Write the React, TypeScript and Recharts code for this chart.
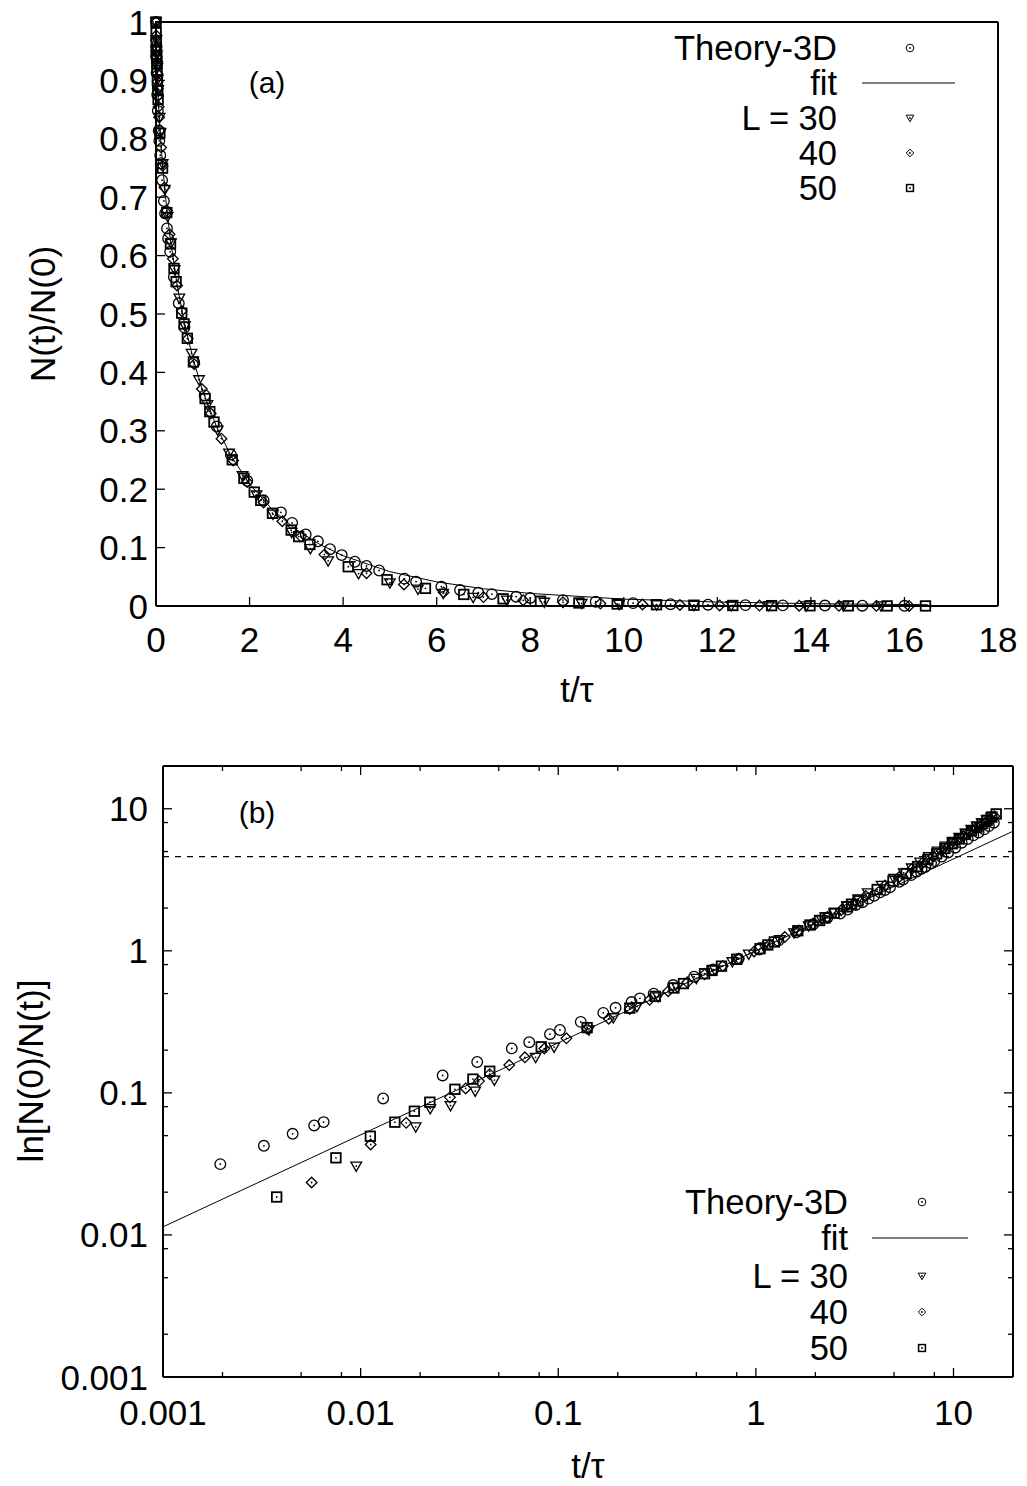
import React from 'react';
import { ComposedChart, Scatter, XAxis, YAxis, ReferenceLine } from 'recharts';

const FONT = '"Liberation Sans", Arial, Helvetica, sans-serif';
const FS = 35;

// Theory-3D (circles)
const thT = [0.00195, 0.00324, 0.00453, 0.00582, 0.0065, 0.013, 0.026, 0.0389, 0.0582, 0.0713, 0.0908, 0.102, 0.13, 0.169, 0.195, 0.235, 0.259, 0.304, 0.381, 0.487, 0.608, 0.817, 1.04, 1.3, 1.6, 1.95, 2.3, 2.67, 2.91, 3.2, 3.46, 3.72, 3.97, 4.25, 4.5, 4.77, 5.31, 5.56, 6.1, 6.5, 6.89, 7.18, 7.7, 8.0, 8.7, 9.4, 10.2, 11.0, 11.8, 12.6, 13.4, 14.3, 15.1, 16.0];
const thLn = [0.0315, 0.0424, 0.0515, 0.059, 0.0623, 0.0914, 0.1327, 0.165, 0.2056, 0.2275, 0.259, 0.277, 0.316, 0.366, 0.397, 0.436, 0.463, 0.5, 0.574, 0.657, 0.74, 0.875, 1.02, 1.18, 1.35, 1.54, 1.71, 1.83, 1.95, 2.1, 2.2, 2.33, 2.44, 2.58, 2.68, 2.8, 3.06, 3.18, 3.41, 3.6, 3.78, 3.89, 4.14, 4.28, 4.6, 4.92, 5.32, 5.77, 6.12, 6.5, 6.8, 7.16, 7.55, 7.98];
const thN = [0.969, 0.9585, 0.9498, 0.9427, 0.9396, 0.9127, 0.8757, 0.8479, 0.8141, 0.7965, 0.7718, 0.7581, 0.7291, 0.6935, 0.6723, 0.6466, 0.6294, 0.6065, 0.5633, 0.5184, 0.4771, 0.4169, 0.3606, 0.3073, 0.2592, 0.2144, 0.1809, 0.1604, 0.1423, 0.1225, 0.1108, 0.0973, 0.0872, 0.0758, 0.0686, 0.0608, 0.0469, 0.0416, 0.033, 0.0273, 0.0228, 0.0204, 0.0159, 0.0138, 0.0101, 0.0073, 0.0049, 0.0031, 0.0022, 0.0015, 0.0011, 0.0008, 0.0005, 0.0003];

// L = 30 (triangles)
const l30T = [0.0095, 0.019, 0.0225, 0.0285, 0.038, 0.0475, 0.0768, 0.0953, 0.143, 0.19, 0.25, 0.32, 0.4, 0.5, 0.62, 0.76, 0.92, 1.1, 1.32, 1.56, 1.85, 2.15, 2.5, 2.9, 3.3, 3.68, 4.33, 5.0, 5.6, 6.14, 6.78, 7.5, 8.3, 9.1, 9.9, 10.7, 11.5, 12.3, 13.1, 13.9, 14.7, 15.5];
const l30Ln = [0.0305, 0.0577, 0.0776, 0.0814, 0.103, 0.123, 0.178, 0.21, 0.278, 0.338, 0.405, 0.475, 0.552, 0.64, 0.735, 0.838, 0.948, 1.065, 1.2, 1.34, 1.5, 1.66, 1.85, 2.07, 2.32, 2.56, 2.89, 3.23, 3.54, 3.83, 4.21, 4.6, 5.03, 5.46, 5.89, 6.3, 6.75, 7.15, 7.55, 7.95, 8.35, 8.75];
const l30N = [0.97, 0.9439, 0.9253, 0.9218, 0.9021, 0.8843, 0.8369, 0.8106, 0.7573, 0.7132, 0.667, 0.6219, 0.5758, 0.5273, 0.4795, 0.4326, 0.3875, 0.3447, 0.3012, 0.2618, 0.2231, 0.1901, 0.1572, 0.1262, 0.0983, 0.0773, 0.0556, 0.0396, 0.029, 0.0217, 0.0148, 0.0101, 0.0065, 0.0043, 0.0028, 0.0018, 0.0012, 0.0008, 0.0005, 0.00035, 0.00024, 0.00016];

// L = 40 (diamonds)
const l40T = [0.00565, 0.01124, 0.017, 0.0283, 0.034, 0.0397, 0.045, 0.0565, 0.0678, 0.085, 0.11, 0.14, 0.18, 0.23, 0.29, 0.36, 0.45, 0.55, 0.68, 0.82, 0.98, 1.17, 1.4, 1.65, 1.95, 2.3, 2.7, 3.1, 3.6, 4.5, 5.3, 6.15, 7.0, 7.85, 8.7, 9.5, 10.4, 11.2, 12.05, 12.9, 13.75, 14.6, 15.4, 16.1];
const l40Ln = [0.0234, 0.0433, 0.0615, 0.093, 0.1075, 0.121, 0.1355, 0.157, 0.178, 0.205, 0.242, 0.283, 0.333, 0.39, 0.452, 0.52, 0.6, 0.683, 0.782, 0.882, 0.99, 1.11, 1.25, 1.39, 1.55, 1.73, 1.93, 2.13, 2.43, 2.88, 3.3, 3.76, 4.19, 4.63, 5.07, 5.49, 5.96, 6.4, 6.86, 7.27, 7.69, 8.11, 8.51, 8.87];
const l40N = [0.9769, 0.9576, 0.9404, 0.9112, 0.8981, 0.886, 0.8733, 0.8547, 0.8369, 0.8146, 0.7851, 0.7536, 0.7168, 0.6771, 0.6364, 0.5945, 0.5488, 0.5051, 0.4575, 0.414, 0.3716, 0.3296, 0.2865, 0.2491, 0.2122, 0.1773, 0.1451, 0.1188, 0.088, 0.0561, 0.0369, 0.0233, 0.0152, 0.0098, 0.0063, 0.0041, 0.0026, 0.0017, 0.001, 0.0007, 0.0005, 0.0003, 0.0002, 0.00014];

// L = 50 (squares)
const l50T = [0.00376, 0.0075, 0.0112, 0.0149, 0.0187, 0.0224, 0.03, 0.037, 0.045, 0.082, 0.14, 0.23, 0.31, 0.385, 0.43, 0.55, 0.6, 0.67, 0.8, 1.05, 1.15, 1.24, 1.63, 1.88, 2.1, 2.24, 2.49, 2.89, 3.05, 3.29, 4.11, 4.94, 5.76, 6.58, 7.42, 8.22, 9.04, 9.86, 10.7, 11.5, 12.33, 13.16, 13.98, 14.8, 15.63, 16.45];
const l50Ln = [0.0185, 0.0349, 0.0495, 0.0622, 0.0743, 0.086, 0.106, 0.125, 0.142, 0.211, 0.288, 0.395, 0.478, 0.548, 0.588, 0.69, 0.728, 0.78, 0.872, 1.035, 1.1, 1.155, 1.385, 1.52, 1.635, 1.71, 1.84, 2.04, 2.13, 2.25, 2.7, 3.1, 3.5, 3.92, 4.4, 4.82, 5.25, 5.68, 6.13, 6.6, 7.0, 7.42, 7.85, 8.3, 8.75, 9.2];
const l50N = [0.9817, 0.9657, 0.9517, 0.9397, 0.9284, 0.9176, 0.8994, 0.8825, 0.8676, 0.8098, 0.7498, 0.6737, 0.62, 0.578, 0.5554, 0.5016, 0.4829, 0.4584, 0.4181, 0.3552, 0.3329, 0.315, 0.2503, 0.2187, 0.195, 0.1809, 0.1588, 0.13, 0.1188, 0.1054, 0.0672, 0.045, 0.0302, 0.0198, 0.0123, 0.0081, 0.0052, 0.0034, 0.0022, 0.0014, 0.0009, 0.0006, 0.0004, 0.00025, 0.00016, 0.0001];

const fitTopT = [0, 0.002, 0.005, 0.01, 0.02, 0.03, 0.05, 0.08, 0.12, 0.2, 0.3, 0.45, 0.6, 0.8, 1, 1.3, 1.6, 2, 2.5, 3, 3.5, 4, 5, 6, 7, 8, 10, 12, 14, 16.5];
const fitTopN = [1, 0.9822, 0.9681, 0.9504, 0.9235, 0.9017, 0.866, 0.8228, 0.776, 0.7026, 0.6319, 0.5507, 0.4874, 0.4208, 0.3679, 0.3058, 0.2577, 0.2089, 0.1638, 0.1306, 0.1055, 0.0861, 0.0588, 0.0413, 0.0295, 0.0215, 0.0118, 0.0068, 0.004, 0.0022];
const fitLogT = [0.001, 1, 20];
const fitLogLn = [0.0114, 1.0, 6.95];
const dashLevel = 4.605;

const xTicksA = [0, 2, 4, 6, 8, 10, 12, 14, 16, 18];
const yTicksA = [0, 0.1, 0.2, 0.3, 0.4, 0.5, 0.6, 0.7, 0.8, 0.9, 1];
const logTicks = [0.001, 0.002, 0.005, 0.008, 0.01, 0.02, 0.05, 0.08, 0.1, 0.2, 0.5, 0.8, 1, 2, 5, 8, 10];

const rows = (t: number[], v: number[]) => t.map((x, i) => ({ t: x, v: v[i] }));
const withStart = (t: number[], v: number[]) => [{ t: 0, v: 1 }, ...rows(t, v)];

type Kind = 'circle' | 'tri' | 'diamond' | 'square';

function Mark({ kind, cx, cy, s = 5.3 }: { kind: Kind; cx: number; cy: number; s?: number }) {
  const sw = s > 4 ? 1.3 : 1;
  let body: React.ReactNode = null;
  if (kind === 'circle') body = <circle cx={cx} cy={cy} r={s} fill="none" stroke="#000" strokeWidth={sw} />;
  if (kind === 'tri')
    body = <polygon points={`${cx - s},${cy - s * 0.75} ${cx + s},${cy - s * 0.75} ${cx},${cy + s}`} fill="none" stroke="#000" strokeWidth={sw} />;
  if (kind === 'diamond')
    body = <polygon points={`${cx},${cy - s} ${cx + s},${cy} ${cx},${cy + s} ${cx - s},${cy}`} fill="none" stroke="#000" strokeWidth={sw} />;
  if (kind === 'square')
    body = <rect x={cx - s * 0.9} y={cy - s * 0.9} width={s * 1.8} height={s * 1.8} fill="none" stroke="#000" strokeWidth={sw + 0.5} />;
  return (
    <g>
      {body}
      <circle cx={cx} cy={cy} r={0.9} fill="#000" />
    </g>
  );
}

const shapeOf = (kind: Kind) => (p: any) => <Mark kind={kind} cx={p.cx} cy={p.cy} />;
const noShape = () => <g />;

type Side = 'bottom' | 'top' | 'left' | 'right';
const isDecade = (v: number) => Math.abs(Math.log10(v) - Math.round(Math.log10(v))) < 1e-6;
const always = () => true;

function tickFn(side: Side, isMajor: (v: number) => boolean, gap: number | null) {
  return (p: any) => {
    const v: number = p.payload.value;
    const len = isMajor(v) ? 9 : 5;
    const x = p.x;
    const y = p.y;
    let x2 = x;
    let y2 = y;
    if (side === 'bottom') y2 = y - len;
    if (side === 'top') y2 = y + len;
    if (side === 'left') x2 = x + len;
    if (side === 'right') x2 = x - len;
    let label: React.ReactNode = null;
    if (gap !== null && isMajor(v)) {
      if (side === 'bottom')
        label = (
          <text x={x} y={y + gap} textAnchor="middle" dominantBaseline="central" fontSize={FS} fontFamily={FONT} fill="#000">
            {String(v)}
          </text>
        );
      if (side === 'left')
        label = (
          <text x={x - gap} y={y} textAnchor="end" dominantBaseline="central" fontSize={FS} fontFamily={FONT} fill="#000">
            {String(v)}
          </text>
        );
    }
    return (
      <g>
        <line x1={x} y1={y} x2={x2} y2={y2} stroke="#000" strokeWidth={1.3} />
        {label}
      </g>
    );
  };
}

const axisLine = { stroke: '#000', strokeWidth: 2 };

// axis band sizes (the plot box is margin + band)
const BOT_H = 30;
const TOP_H = 10;
const LEFT_W = 60;
const RIGHT_W = 10;

function PanelA() {
  return (
    <ComposedChart width={1027} height={720} margin={{ top: 22 - TOP_H, right: 29 - RIGHT_W, bottom: 114 - BOT_H, left: 156 - LEFT_W }}>
      <XAxis xAxisId="b" dataKey="t" type="number" domain={[0, 18]} ticks={xTicksA} interval={0} height={BOT_H}
        tickSize={0} tickMargin={0} tickLine={false} axisLine={axisLine} tick={tickFn('bottom', always, 33)} />
      <XAxis xAxisId="t" orientation="top" dataKey="t" type="number" domain={[0, 18]} ticks={xTicksA} interval={0} height={TOP_H}
        tickSize={0} tickMargin={0} tickLine={false} axisLine={axisLine} tick={tickFn('top', always, null)} />
      <YAxis yAxisId="l" dataKey="v" type="number" domain={[0, 1]} ticks={yTicksA} interval={0} width={LEFT_W}
        tickSize={0} tickMargin={0} tickLine={false} axisLine={axisLine} tick={tickFn('left', always, 8)} />
      <YAxis yAxisId="r" orientation="right" dataKey="v" type="number" domain={[0, 1]} ticks={yTicksA} interval={0} width={RIGHT_W}
        tickSize={0} tickMargin={0} tickLine={false} axisLine={axisLine} tick={tickFn('right', always, null)} />
      <Scatter xAxisId="b" yAxisId="l" data={withStart(thT, thN)} shape={shapeOf('circle')} isAnimationActive={false} />
      <Scatter xAxisId="b" yAxisId="l" data={rows(fitTopT, fitTopN)} line={{ stroke: '#000', strokeWidth: 1 }} shape={noShape} isAnimationActive={false} />
      <Scatter xAxisId="b" yAxisId="l" data={withStart(l30T, l30N)} shape={shapeOf('tri')} isAnimationActive={false} />
      <Scatter xAxisId="b" yAxisId="l" data={withStart(l40T, l40N)} shape={shapeOf('diamond')} isAnimationActive={false} />
      <Scatter xAxisId="b" yAxisId="l" data={withStart(l50T, l50N)} shape={shapeOf('square')} isAnimationActive={false} />
    </ComposedChart>
  );
}

function PanelB() {
  return (
    <ComposedChart width={1027} height={746} margin={{ top: 26 - TOP_H, right: 14 - RIGHT_W, bottom: 109 - BOT_H, left: 163 - LEFT_W }}>
      <XAxis xAxisId="b" dataKey="t" type="number" scale="log" domain={[0.001, 20]} allowDataOverflow ticks={logTicks} interval={0} height={BOT_H}
        tickSize={0} tickMargin={0} tickLine={false} axisLine={axisLine} tick={tickFn('bottom', isDecade, 35)} />
      <XAxis xAxisId="t" orientation="top" dataKey="t" type="number" scale="log" domain={[0.001, 20]} allowDataOverflow ticks={logTicks} interval={0} height={TOP_H}
        tickSize={0} tickMargin={0} tickLine={false} axisLine={axisLine} tick={tickFn('top', isDecade, null)} />
      <YAxis yAxisId="l" dataKey="v" type="number" scale="log" domain={[0.001, 20]} allowDataOverflow ticks={logTicks} interval={0} width={LEFT_W}
        tickSize={0} tickMargin={0} tickLine={false} axisLine={axisLine} tick={tickFn('left', isDecade, 15)} />
      <YAxis yAxisId="r" orientation="right" dataKey="v" type="number" scale="log" domain={[0.001, 20]} allowDataOverflow ticks={logTicks} interval={0} width={RIGHT_W}
        tickSize={0} tickMargin={0} tickLine={false} axisLine={axisLine} tick={tickFn('right', isDecade, null)} />
      <ReferenceLine xAxisId="b" yAxisId="l" y={dashLevel} stroke="#000" strokeWidth={1.2} strokeDasharray="6 6" />
      <Scatter xAxisId="b" yAxisId="l" data={rows(thT, thLn)} shape={shapeOf('circle')} isAnimationActive={false} />
      <Scatter xAxisId="b" yAxisId="l" data={rows(fitLogT, fitLogLn)} line={{ stroke: '#000', strokeWidth: 1 }} shape={noShape} isAnimationActive={false} />
      <Scatter xAxisId="b" yAxisId="l" data={rows(l30T, l30Ln)} shape={shapeOf('tri')} isAnimationActive={false} />
      <Scatter xAxisId="b" yAxisId="l" data={rows(l40T, l40Ln)} shape={shapeOf('diamond')} isAnimationActive={false} />
      <Scatter xAxisId="b" yAxisId="l" data={rows(l50T, l50Ln)} shape={shapeOf('square')} isAnimationActive={false} />
    </ComposedChart>
  );
}

const keyItems: { label: string; kind: Kind | 'line' }[] = [
  { label: 'Theory-3D', kind: 'circle' },
  { label: 'fit', kind: 'line' },
  { label: 'L = 30', kind: 'tri' },
  { label: '40', kind: 'diamond' },
  { label: '50', kind: 'square' },
];

function Key({ textX, markX, lineX1, lineX2, ys }: { textX: number; markX: number; lineX1: number; lineX2: number; ys: number[] }) {
  return (
    <g>
      {keyItems.map((it, i) => (
        <g key={it.label}>
          <text x={textX} y={ys[i]} textAnchor="end" dominantBaseline="central" fontSize={FS - 0.5} fontFamily={FONT} fill="#000">
            {it.label}
          </text>
          {it.kind === 'line' ? (
            <line x1={lineX1} x2={lineX2} y1={ys[i]} y2={ys[i]} stroke="#000" strokeWidth={1} />
          ) : (
            <Mark kind={it.kind} cx={markX} cy={ys[i]} s={3.8} />
          )}
        </g>
      ))}
    </g>
  );
}

export default function App() {
  const txt = { fontSize: FS, fontFamily: FONT, fill: '#000' };
  return (
    <div style={{ position: 'absolute', left: 0, top: 0, width: 1027, height: 1486, background: '#fff' }}>
      <div style={{ position: 'absolute', left: 0, top: 0 }}>
        <PanelA />
      </div>
      <div style={{ position: 'absolute', left: 0, top: 740 }}>
        <PanelB />
      </div>
      <svg width={1027} height={1486} style={{ position: 'absolute', left: 0, top: 0, pointerEvents: 'none' }}>
        <text x={267} y={82} textAnchor="middle" dominantBaseline="central" {...txt} fontSize={30}>(a)</text>
        <text x={257} y={812} textAnchor="middle" dominantBaseline="central" {...txt} fontSize={30}>(b)</text>
        <text x={577} y={689} textAnchor="middle" dominantBaseline="central" {...txt}>t/τ</text>
        <text x={588} y={1465} textAnchor="middle" dominantBaseline="central" {...txt}>t/τ</text>
        <text x={0} y={0} textAnchor="middle" dominantBaseline="central" {...txt} transform="translate(42 314) rotate(-90)">N(t)/N(0)</text>
        <text x={0} y={0} textAnchor="middle" dominantBaseline="central" {...txt} transform="translate(30 1071) rotate(-90)">ln[N(0)/N(t)]</text>
        <Key textX={837} markX={910} lineX1={862} lineX2={955} ys={[48, 83, 118, 153, 188]} />
        <Key textX={848} markX={922} lineX1={872} lineX2={968} ys={[1202, 1238, 1276, 1312, 1348]} />
      </svg>
    </div>
  );
}
